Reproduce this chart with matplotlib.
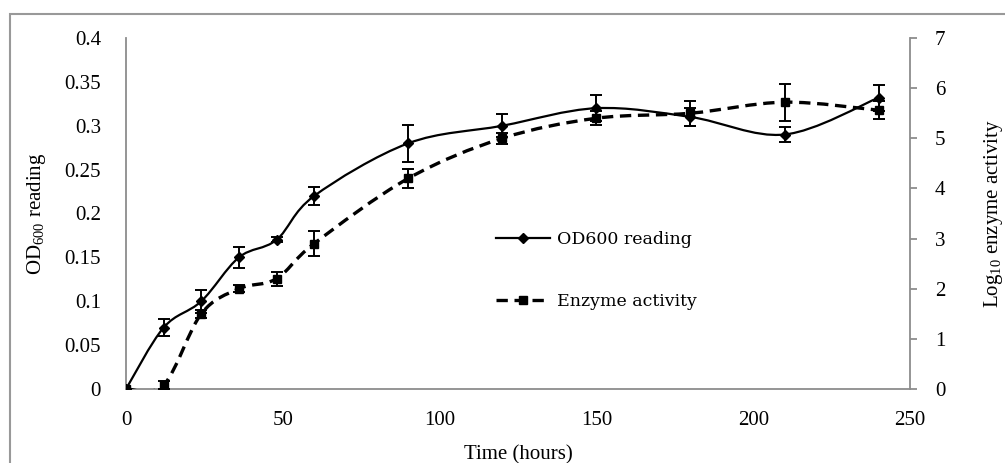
import matplotlib
matplotlib.use("Agg")
import matplotlib.pyplot as plt
from matplotlib.path import Path
from matplotlib.patches import PathPatch, Rectangle
from matplotlib.lines import Line2D
import numpy as np

plt.rcParams['font.family'] = ['Liberation Serif', 'DejaVu Serif']
plt.rcParams['mathtext.fontset'] = 'custom'
plt.rcParams['mathtext.rm'] = 'Liberation Serif'

time_h = [0, 12, 24, 36, 48, 60, 90, 120, 150, 180, 210, 240]
od600 = [0, 0.070, 0.100, 0.150, 0.170, 0.220, 0.280, 0.300, 0.320, 0.310, 0.290, 0.332]
od600_err = [0, 0.010, 0.013, 0.012, 0.003, 0.010, 0.021, 0.013, 0.015, 0.010, 0.009, 0.015]
enzyme = [0, 0.08, 1.50, 2.00, 2.20, 2.90, 4.20, 5.00, 5.40, 5.50, 5.72, 5.56]
enzyme_err = [0, 0.08, 0.08, 0.07, 0.14, 0.25, 0.19, 0.11, 0.14, 0.25, 0.37, 0.18]

x_ticks = [0, 50, 100, 150, 200, 250]
left_ticks = [0, 0.05, 0.1, 0.15, 0.2, 0.25, 0.3, 0.35, 0.4]
left_labels = ['0', '0.05', '0.1', '0.15', '0.2', '0.25', '0.3', '0.35', '0.4']
right_ticks = [0, 1, 2, 3, 4, 5, 6, 7]


def smooth_path(xs, ys):
    pts = np.column_stack([xs, ys]).astype(float)
    n = len(pts)
    verts = [pts[0]]
    codes = [Path.MOVETO]
    for i in range(n - 1):
        p0 = pts[i - 1] if i > 0 else pts[i]
        p1 = pts[i]
        p2 = pts[i + 1]
        p3 = pts[i + 2] if i + 2 < n else pts[i + 1]
        c1 = p1 + (p2 - p0) / 6.0
        c2 = p2 - (p3 - p1) / 6.0
        verts += [c1, c2, p2]
        codes += [Path.CURVE4] * 3
    return Path(verts, codes)


fig = plt.figure(figsize=(10.05, 4.63), dpi=100)
W, H = 1005, 463
ax = fig.add_axes([126 / W, 1 - 389 / H, (910 - 126) / W, (389 - 38) / H])
ax2 = ax.twinx()

grey = '#8c8c8c'

# OD600 series (left axis)
ax.add_patch(PathPatch(smooth_path(time_h, od600), facecolor='none',
                       edgecolor='black', lw=1.6, zorder=3))
ax.plot(time_h, od600, linestyle='none', marker='D', ms=5, color='black', zorder=4)
ax.errorbar(time_h, od600, yerr=od600_err, fmt='none', ecolor='black',
            elinewidth=1.4, capsize=4.5, capthick=1.4, zorder=4)

# Enzyme series (right axis)
ax2.add_patch(PathPatch(smooth_path(time_h, enzyme), facecolor='none',
                        edgecolor='black', lw=2.4, linestyle=(0, (3.4, 2.0)), zorder=3))
ax2.plot(time_h, enzyme, linestyle='none', marker='s', ms=5.5, color='black', zorder=4)
ax2.errorbar(time_h, enzyme, yerr=enzyme_err, fmt='none', ecolor='black',
             elinewidth=1.4, capsize=4.5, capthick=1.4, zorder=4)

ax.set_xlim(0, 250)
ax.set_ylim(0, 0.4)
ax2.set_ylim(0, 7)

ax.set_xticks(x_ticks)
ax.set_yticks(left_ticks)
ax.set_yticklabels(left_labels)
ax2.set_yticks(right_ticks)

for a in (ax, ax2):
    for s in a.spines.values():
        s.set_visible(False)
ax.spines['left'].set_visible(True)
ax.spines['bottom'].set_visible(True)
ax2.spines['right'].set_visible(True)
for s in (ax.spines['left'], ax.spines['bottom'], ax2.spines['right']):
    s.set_color(grey)
    s.set_linewidth(1.3)

ax.tick_params(axis='x', length=0, pad=16, labelsize=15)
ax.tick_params(axis='y', length=0, pad=18, labelsize=15)
ax2.tick_params(axis='y', length=5, width=1.3, color=grey, direction='out', pad=13, labelsize=15)

ax.set_xlabel('Time (hours)', fontsize=15, labelpad=11)
ax.set_ylabel(r'OD$_{\mathregular{600}}$ reading', fontsize=15, labelpad=12)
ax2.set_ylabel(r'Log$_{\mathregular{10}}$ enzyme activity', fontsize=15, labelpad=26)

handles = [
    Line2D([], [], color='black', lw=1.6, marker='D', ms=5),
    Line2D([], [], color='black', lw=2.4, linestyle=(0, (3.4, 2.0)), marker='s', ms=5.5),
]
leg = ax.legend(handles, ['OD600 reading', 'Enzyme activity'],
                loc='upper left', bbox_to_anchor=((495 - 126) / 784 - 0.019, (389 - 215) / 351),
                frameon=False, handlelength=3.1, handletextpad=0.45,
                labelspacing=2.6, prop={'family': 'DejaVu Serif', 'size': 12.5})

# outer chart border
fig.patches.append(Rectangle((10 / W, -0.05), 1.1, 1 - 14 / H + 0.05,
                             transform=fig.transFigure, fill=False,
                             edgecolor='#999999', lw=1.5))

fig.savefig('out.png', dpi=100)
